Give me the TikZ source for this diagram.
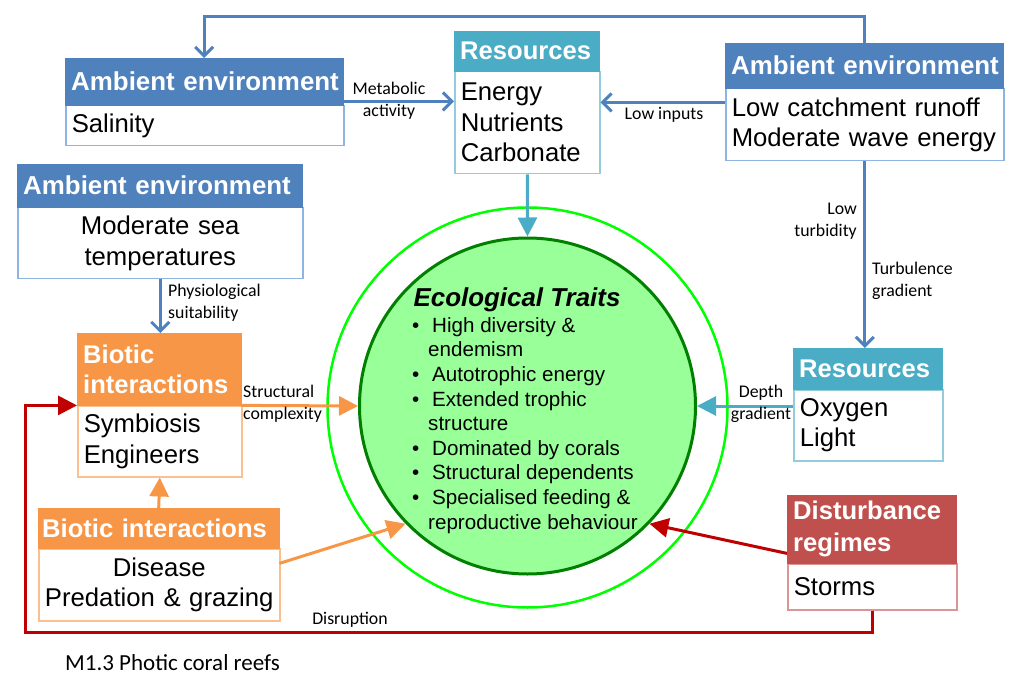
\documentclass[tikz,border=0pt]{standalone}
\usepackage{fontspec}
\setmainfont{Liberation Sans}
\newfontfamily\cfont{Carlito}
\usetikzlibrary{arrows.meta,calc}
\definecolor{ambH}{HTML}{4F81BD}
\definecolor{ambB}{HTML}{8EB4E3}
\definecolor{resH}{HTML}{4BACC6}
\definecolor{resB}{HTML}{93CDDD}
\definecolor{bioH}{HTML}{F79646}
\definecolor{bioB}{HTML}{FAC08F}
\definecolor{disH}{HTML}{C0504D}
\definecolor{disB}{HTML}{D99694}
\definecolor{arrRed}{HTML}{C00000}
\definecolor{circFill}{HTML}{99FF99}
\definecolor{circDark}{HTML}{007F00}
\definecolor{circOut}{HTML}{00FF00}
\newcommand\blt{\makebox[20pt][l]{\textbullet}}
\newcommand\ind{\hspace*{16pt}}
\begin{document}
\begin{tikzpicture}[x=1pt,y=-1pt,
  hdr/.style={anchor=north west, inner xsep=6pt, inner ysep=0pt, text=white, align=left,
    font=\fontsize{25.6}{30}\selectfont\bfseries},
  ambfont/.style={font=\fontsize{25.9}{30}\selectfont\bfseries},
  bdy/.style={anchor=north west, draw, line width=1.5pt, fill=white, inner xsep=6pt, inner ysep=0pt,
    align=left, font=\fontsize{25.7}{30.5}\selectfont},
  lbl/.style={font=\cfont\fontsize{17.8}{22}\selectfont, inner sep=0pt},
  barrow/.style={draw=ambH, line width=3pt, -{Straight Barb[length=9pt,width=18pt]}},
  tarrow/.style={draw=#1, line width=3pt, -{Triangle[length=19pt,width=19pt]}},
]
\useasboundingbox (0,0) rectangle (1011,700);

% circles
\node[circle, draw=circOut, line width=2.5pt, minimum size=400pt, inner sep=0pt] (outer) at (527.5,407.5) {};
\node[circle, draw=circDark, fill=circFill, line width=3pt, minimum size=336pt, inner sep=0pt] (inner) at (527.5,406) {};
\node[anchor=base, inner sep=0pt, font=\fontsize{25.9}{30}\selectfont\bfseries\itshape] (ttl) at (517,306) {Ecological Traits};
\node[anchor=base west, align=left, inner sep=0pt, font=\fontsize{20.6}{24.6}\selectfont] (traits) at (412,529)
 {\blt High diversity \&\\ \ind endemism\\ \blt Autotrophic energy\\ \blt Extended trophic\\ \ind structure\\
  \blt Dominated by corals\\ \blt Structural dependents\\ \blt Specialised feeding \&\\ \ind reproductive behaviour};

% Ambient environment: Salinity
\node[bdy, draw=ambB, minimum width=278pt, text width=266pt, minimum height=40pt] (a1b) at (65,105) {Salinity};
\node[hdr, ambfont, fill=ambH, draw=ambH, minimum width=278pt, text width=266pt, minimum height=47pt] (a1h) at (65,58) {\mbox{Ambient environment}};

% Ambient environment: Moderate sea temperatures
\node[bdy, draw=ambB, minimum width=285pt, text width=273pt, minimum height=71pt, align=center] (a2b) at (17,207) {Moderate sea\\temperatures};
\node[hdr, ambfont, fill=ambH, draw=ambH, minimum width=285pt, text width=273pt, minimum height=43pt] (a2h) at (17,164) {\mbox{Ambient environment}};

% Resources top
\node[bdy, draw=resB, minimum width=145pt, text width=133pt, minimum height=102pt] (resb) at (454,71) {Energy\\Nutrients\\Carbonate};
\node[hdr, fill=resH, draw=resH, minimum width=145pt, text width=133pt, minimum height=40pt] (resh) at (454,31) {\mbox{Resources}};

% Ambient environment right
\node[bdy, draw=ambB, minimum width=278pt, text width=266pt, minimum height=72pt] (arb) at (725,88) {\mbox{Low catchment runoff}\\\mbox{Moderate wave energy}};
\node[hdr, ambfont, fill=ambH, draw=ambH, minimum width=278pt, text width=266pt, minimum height=45pt] (arh) at (725,43) {\mbox{Ambient environment}};

% Resources right
\node[bdy, draw=resB, minimum width=149pt, text width=137pt, minimum height=71pt] (r2b) at (793,389) {Oxygen\\Light};
\node[hdr, fill=resH, draw=resH, minimum width=149pt, text width=137pt, minimum height=41pt] (r2h) at (793,348) {\mbox{Resources}};

% Disturbance regimes
\node[bdy, draw=disB, minimum width=169pt, text width=157pt, minimum height=46pt] (db) at (787,563) {Storms};
\node[hdr, fill=disH, draw=disH, minimum width=169pt, text width=157pt, minimum height=68pt,
  font=\fontsize{25.6}{32}\selectfont\bfseries] (dh) at (787,495) {Disturbance\\regimes};

% Biotic interactions 1
\node[bdy, draw=bioB, minimum width=164pt, text width=152pt, minimum height=71pt] (b1b) at (77,405) {Symbiosis\\Engineers};
\node[hdr, fill=bioH, draw=bioH, minimum width=164pt, text width=152pt, minimum height=72pt] (b1h) at (77,333) {Biotic\\interactions};

% Biotic interactions 2
\node[bdy, draw=bioB, minimum width=241pt, text width=233pt, inner xsep=4pt, minimum height=72pt, align=center] (b2b) at (38,548) {Disease\\\mbox{Predation \& grazing}};
\node[hdr, fill=bioH, draw=bioH, minimum width=241pt, text width=233pt, inner xsep=4pt, minimum height=40pt] (b2h) at (38,508) {\mbox{Biotic interactions}};

% connectors
\coordinate (topy) at (0,17);
\draw[barrow] (arh.north) -- (arh.north |- topy) -| (a1h.north);
\draw[barrow] ([yshift=4pt]a1h.south east) -- ([yshift=4pt]a1h.south east -| resb.west);
\draw[barrow] ([yshift=-14pt]arh.south west) -- ([yshift=-14pt]arh.south west -| resb.east);
\draw[tarrow=resH] (resb.south) -- (inner.north);
\draw[barrow] (arb.south) -- (arb.south |- r2h.north);
\draw[tarrow=resH] (r2b.west |- inner.east) -- (inner.east);
\draw[tarrow=arrRed] ([yshift=10pt]dh.south west) -- (inner.-44);
\coordinate (dlc) at (25,632);
\draw[tarrow=arrRed] (db.south) |- (dlc) |- (b1h.south west);
\draw[barrow] (a2b.south) -- (a2b.south |- b1h.north);
\draw[tarrow=bioH] (b1h.south east) -- (inner.west);
\draw[tarrow=bioH] (b2h.north) -- (b1b.south);
\draw[tarrow=bioH] ([yshift=-15pt]b2h.south east) -- (inner.224);

% labels
\node[lbl, align=center] (lmet) at (389,101) {Metabolic\\activity};
\node[lbl] (lin) at (664,115) {Low inputs};
\node[lbl, align=right, anchor=east] (ltur) at (857,221) {Low\\turbidity};
\node[lbl, align=left, anchor=west] (lturb) at (872,281) {Turbulence\\gradient};
\node[lbl, align=left, anchor=west] (lphy) at (168,303) {Physiological\\suitability};
\node[lbl, align=left, anchor=west] (lstr) at (243,404) {Structural\\complexity};
\node[lbl, align=center] (ldep) at (761,404) {Depth\\gradient};
\node[lbl] (ldis) at (350,620) {Disruption};
\node[lbl, anchor=west, font=\cfont\fontsize{23}{28}\selectfont] (title) at (65,663) {M1.3 Photic coral reefs};
\end{tikzpicture}
\end{document}
